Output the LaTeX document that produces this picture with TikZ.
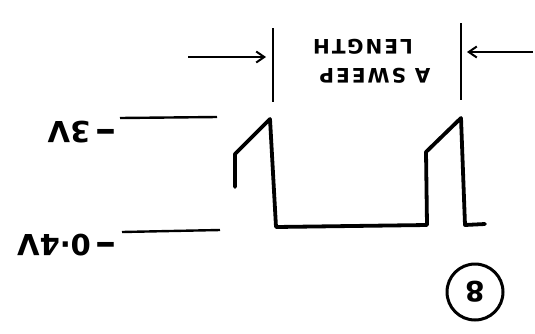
\documentclass[tikz,border=0pt]{standalone}
\usepackage{fontspec}
\setmainfont{DejaVu Sans}
\newfontfamily\lett[LetterSpace=10]{DejaVu Sans}
\usetikzlibrary{arrows.meta}
\newcommand{\longdash}{\scalebox{1.45}[1.3]{–}}
\begin{document}
\begin{tikzpicture}[x=1pt,y=-1pt,
  wave/.style={line width=3.8pt, line join=round, line cap=round},
  refline/.style={line width=2.4pt},
  bar/.style={line width=2.4pt},
  arr/.style={line width=2pt, -{Straight Barb[length=8pt,width=11pt,line width=2pt]}},
  vlab/.style={rotate=180, font=\bfseries\fontsize{29}{29}\selectfont, inner sep=0pt},
  tlab/.style={rotate=180, font=\lett\bfseries\fontsize{20}{20}\selectfont, inner sep=0pt}]
\useasboundingbox (0,0) rectangle (535,333);
% waveform
\coordinate (w1) at (235,187);
\coordinate (w2) at (235,154);
\coordinate (w3) at (270,119);
\coordinate (w4) at (276,227);
\coordinate (w5) at (427,225);
\coordinate (w6) at (426,152);
\coordinate (w7) at (461,118);
\coordinate (w8) at (465,225);
\coordinate (w9) at (485,224);
\draw[wave] (w1) -- (w2) -- (w3) -- (w4) -- (w5) -- (w6) -- (w7) -- (w8) -- (w9);
% reference lines
\coordinate (r1a) at (120,118); \coordinate (r1b) at (217,117);
\coordinate (r2a) at (122,232); \coordinate (r2b) at (220,230);
\draw[refline] (r1a) -- (r1b);
\draw[refline] (r2a) -- (r2b);
% level labels
\node[vlab] (v3) at (82,132) {\longdash\,3V};
\node[vlab] (v04) at (67,245) {\longdash\,0·4V};
% sweep bars
\coordinate (b1a) at (273,28); \coordinate (b1b) at (273,102);
\coordinate (b2a) at (461,23); \coordinate (b2b) at (461,100);
\draw[bar] (b1a) -- (b1b);
\draw[bar] (b2a) -- (b2b);
% arrows
\coordinate (a1s) at (188,57); \coordinate (a1e) at (266,57);
\coordinate (a2s) at (533,52); \coordinate (a2e) at (467,52);
\draw[arr] (a1s) -- (a1e);
\draw[arr] (a2s) -- (a2e);
% text
\node[tlab] (t1) at (375,76) {A SWEEP};
\node[tlab] (t2) at (363,47) {LENGTH};
% figure number
\node[draw, circle, line width=3pt, minimum size=56pt, inner sep=0pt, rotate=180,
      font=\bfseries\fontsize{28}{28}\selectfont] (num) at (475,292) {8};
\end{tikzpicture}
\end{document}
